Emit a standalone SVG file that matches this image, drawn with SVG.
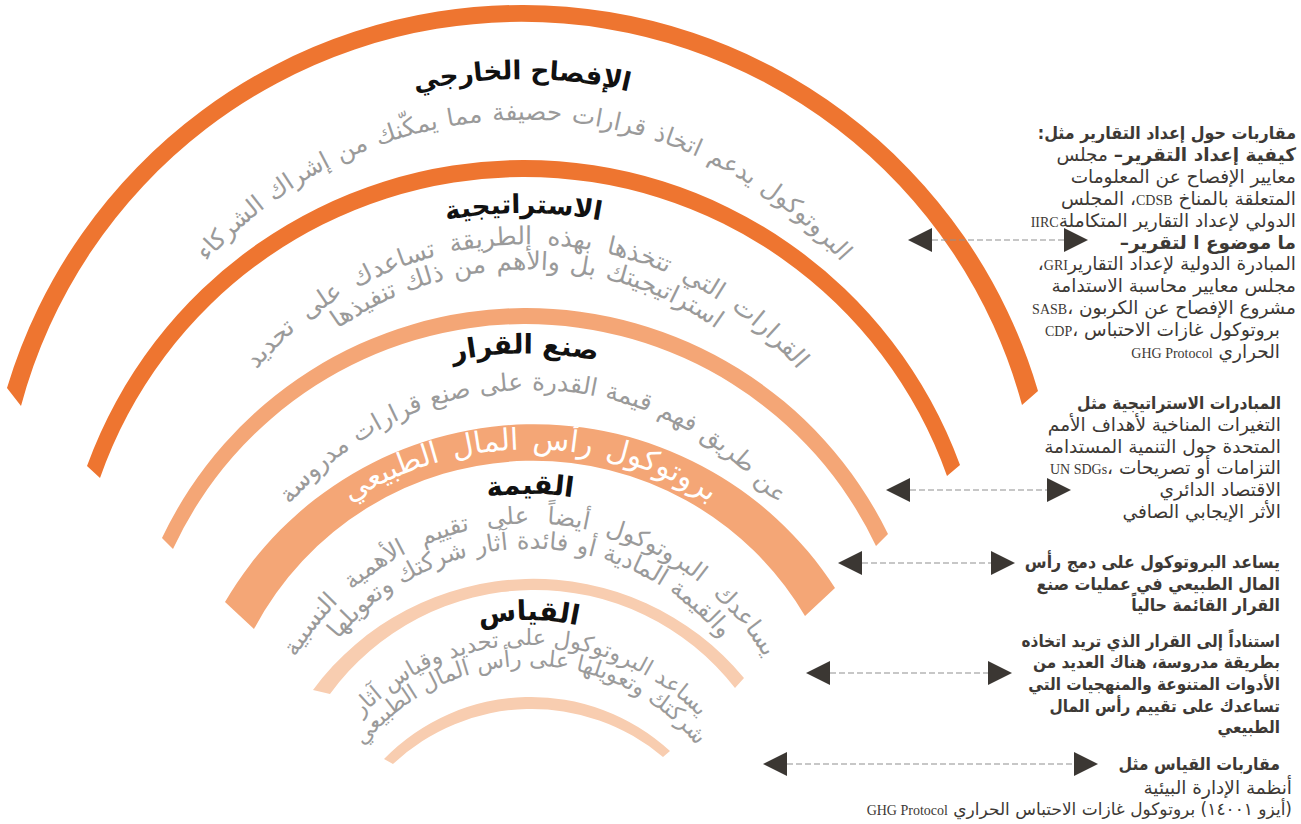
<svg xmlns="http://www.w3.org/2000/svg" width="1301" height="824" viewBox="0 0 1301 824">
<style>
.ar{font-family:"DejaVu Sans","Noto Sans",sans-serif}
.cb{font-family:"DejaVu Sans Condensed","DejaVu Sans",sans-serif;font-weight:700}
.title{font-size:26px;font-weight:700;fill:#111;text-anchor:middle}
.gray{font-size:25px;fill:#9a9a9a;text-anchor:middle}
.bandt{font-size:30px;fill:#fff;text-anchor:middle;word-spacing:4px}
.rt{font-size:18.5px;fill:#3d3935;direction:rtl;text-anchor:start}
.b{font-weight:700}
.lat{font-family:"Liberation Serif",serif;font-size:14px;font-weight:400}
.dash{stroke:#8f8f8f;stroke-width:1.2;stroke-dasharray:6 3;fill:none}
.c1{fill:#EE7530}.c2{fill:#F4A676}.c3{fill:#F8CDB0}
</style>
<defs>
<marker id="ah" viewBox="0 0 24 24" refX="0" refY="12" markerWidth="24" markerHeight="24" markerUnits="userSpaceOnUse" orient="auto-start-reverse"><path d="M0,0 L24,12 L0,24 Z" fill="#3b3733"/></marker>
<path id="p1" d="M59,503 A464.8,464.8 0 0 1 985,503"/>
<path id="p2" d="M100.6,508 A425,425 0 0 1 947.4,508"/>
<path id="p3" d="M113.1,588.7 A412,412 0 0 1 933.9,588.7"/>
<path id="p4a" d="M173.3,569 A355,355 0 0 1 880.7,569"/>
<path id="p4b" d="M197.3,571.1 A331,331 0 0 1 856.7,571.1"/>
<path id="p5" d="M168.4,679.8 A358,358 0 0 1 881.6,679.8"/>
<path id="p6" d="M219.2,677.5 A315,315 0 0 1 846.8,677.5"/>
<path id="p7" d="M197.3,753.9 A334,334 0 0 1 862.7,753.9"/>
<path id="p8" d="M242.1,757.8 A289,289 0 0 1 817.9,757.8"/>
<path id="p9a" d="M259,772.3 A272,272 0 0 1 801,772.3"/>
<path id="p9b" d="M283,774.4 A248,248 0 0 1 777,774.4"/>
<path id="p10" d="M296.8,832.3 A232.6,232.6 0 0 1 760.2,832.3"/>
<path id="p11a" d="M295.9,859.5 A235,235 0 0 1 764.1,859.5"/>
<path id="p11b" d="M316.8,861.3 A214,214 0 0 1 743.2,861.3"/>
</defs>
<rect width="1301" height="824" fill="#fff"/>

<g id="ring-disclosure">
<path class="c1" d="M7,388 A537.8,537.8 0 0 1 1038,391 L1022,405 A518.3,518.3 0 0 0 21,406 Z"/>
<text class="ar title"><textPath href="#p1" startOffset="50%">الإفصاح الخارجي</textPath></text>
<text class="ar gray" style="font-size:24.5px;word-spacing:2px"><textPath href="#p2" startOffset="50%">البروتوكول يدعم اتخاذ قرارات حصيفة مما يمكّنك من إشراك الشركاء</textPath></text>
</g>

<g id="ring-strategy">
<path class="c1" d="M87,466 A464.6,464.6 0 0 1 960,465 L947,476 A448.9,448.9 0 0 0 100,478 Z"/>
<text class="ar title"><textPath href="#p3" startOffset="50%">الاستراتيجية</textPath></text>
<text class="ar gray" style="word-spacing:7px"><textPath href="#p4a" startOffset="50%">القرارات التي تتخذها بهذه الطريقة تساعدك على تحديد</textPath></text>
<text class="ar gray" style="word-spacing:2px"><textPath href="#p4b" startOffset="50%">استراتيجيتك بل والأهم من ذلك تنفيذها</textPath></text>
</g>

<g id="ring-decision">
<path class="c2" d="M162,538 A403,403 0 0 1 888,534 L876,546 A388.2,388.2 0 0 0 173,549 Z"/>
<text class="ar title" style="font-size:27px"><textPath href="#p5" startOffset="50%">صنع القرار</textPath></text>
<text class="ar gray" style="font-size:24.5px;word-spacing:1px"><textPath href="#p6" startOffset="50%">عن طريق فهم قيمة القدرة على صنع قرارات مدروسة</textPath></text>
</g>

<g id="ring-value">
<path class="c2" d="M225,602 A358,358 0 0 1 835,588 L805,616 A315.7,315.7 0 0 0 254,629 Z"/>
<text class="ar bandt"><textPath href="#p7" startOffset="50%">بروتوكول رأس المال الطبيعي</textPath></text>
<text class="ar title" style="font-size:27.5px"><textPath href="#p8" startOffset="50%">القيمة</textPath></text>
<text class="ar gray" style="font-size:24px;word-spacing:10px"><textPath href="#p9a" startOffset="50%">يساعدك البروتوكول أيضاً على تقييم الأهمية النسبية</textPath></text>
<text class="ar gray" style="font-size:24px;word-spacing:1px"><textPath href="#p9b" startOffset="50%">والقيمة المادية أو فائدة آثار شركتك وتعويلها</textPath></text>
</g>

<g id="ring-measure">
<path class="c3" d="M313,690 A273.6,273.6 0 0 1 744,678 L735,688 A253.5,253.5 0 0 0 330,694 Z"/>
<text class="ar title" style="font-size:27.5px"><textPath href="#p10" startOffset="50%">القياس</textPath></text>
<text class="ar gray" style="font-size:22.5px"><textPath href="#p11a" startOffset="50%">يساعد البروتوكول على تحديد وقياس آثار</textPath></text>
<text class="ar gray" style="font-size:22.5px"><textPath href="#p11b" startOffset="50%">شركتك وتعويلها على رأس المال الطبيعي</textPath></text>
<path class="c3" d="M384,759 A205.3,205.3 0 0 1 670,751 L663,757 A202.7,202.7 0 0 0 393,764 Z"/>
</g>

<g id="connectors">
<line class="dash" x1="932" y1="240" x2="1064" y2="240" marker-start="url(#ah)" marker-end="url(#ah)"/>
<line class="dash" x1="910" y1="490" x2="1047" y2="490" marker-start="url(#ah)" marker-end="url(#ah)"/>
<line class="dash" x1="862" y1="563" x2="991" y2="563" marker-start="url(#ah)" marker-end="url(#ah)"/>
<line class="dash" x1="830" y1="673" x2="988" y2="673" marker-start="url(#ah)" marker-end="url(#ah)"/>
<line class="dash" x1="787" y1="764" x2="1074" y2="764" marker-start="url(#ah)" marker-end="url(#ah)"/>
</g>

<g id="note-reporting">
<text class="rt cb" x="1296" y="139" style="font-size:17.7px">مقاربات حول إعداد التقارير مثل:</text>
<text class="ar rt" x="1296" y="161"><tspan class="b">كيفية إعداد التقرير–</tspan> مجلس</text>
<text class="ar rt" x="1296" y="183">معايير الإفصاح عن المعلومات</text>
<text class="ar rt" x="1296" y="205">المتعلقة بالمناخ <tspan class="lat">CDSB</tspan>، المجلس</text>
<text class="ar rt" x="1296" y="227">الدولي لإعداد التقارير المتكاملة<tspan class="lat">IIRC</tspan></text>
<text class="ar rt b" x="1296" y="249">ما موضوع ا لتقرير–</text>
<text class="ar rt" x="1296" y="270">المبادرة الدولية لإعداد التقارير<tspan class="lat">GRI</tspan>،</text>
<text class="ar rt" x="1296" y="292">مجلس معايير محاسبة الاستدامة</text>
<text class="ar rt" x="1296" y="314">مشروع الإفصاح عن الكربون ،<tspan class="lat">SASB</tspan></text>
<text class="ar rt" x="1280" y="336">بروتوكول غازات الاحتباس ،<tspan class="lat">CDP</tspan></text>
<text class="ar rt" x="1280" y="358">الحراري <tspan class="lat">GHG Protocol</tspan></text>
</g>

<g id="note-strategic">
<text class="rt cb" x="1281" y="409" style="font-size:17.2px">المبادرات الاستراتيجية مثل</text>
<text class="ar rt" x="1281" y="431">التغيرات المناخية لأهداف الأمم</text>
<text class="ar rt" x="1281" y="453">المتحدة حول التنمية المستدامة</text>
<text class="ar rt" x="1281" y="474">التزامات أو تصريحات ،<tspan class="lat">UN SDGs</tspan></text>
<text class="ar rt" x="1281" y="496">الاقتصاد الدائري</text>
<text class="ar rt" x="1281" y="518">الأثر الإيجابي الصافي</text>
</g>

<g id="note-decision">
<text class="rt cb" x="1280" y="568" style="font-size:17.6px">يساعد البروتوكول على دمج رأس</text>
<text class="rt cb" x="1280" y="590" style="font-size:17.6px">المال الطبيعي في عمليات صنع</text>
<text class="rt cb" x="1280" y="611" style="font-size:17.6px">القرار القائمة حالياً</text>
</g>

<g id="note-value">
<text class="rt cb" x="1280" y="647" style="font-size:17px">استناداً إلى القرار الذي تريد اتخاذه</text>
<text class="rt cb" x="1280" y="668" style="font-size:17px">بطريقة مدروسة، هناك العديد من</text>
<text class="rt cb" x="1280" y="690" style="font-size:17px">الأدوات المتنوعة والمنهجيات التي</text>
<text class="rt cb" x="1280" y="712" style="font-size:17px">تساعدك على تقييم رأس المال</text>
<text class="rt cb" x="1280" y="733" style="font-size:17px">الطبيعي</text>
</g>

<g id="note-measure">
<text class="rt cb" x="1280" y="770" style="font-size:17.5px">مقاربات القياس مثل</text>
<text class="ar rt" x="1292" y="794">أنظمة الإدارة البيئية</text>
<text class="ar rt" x="1292" y="815" style="font-size:17px">(أيزو ١٤٠٠١) بروتوكول غازات الاحتباس الحراري <tspan class="lat">GHG Protocol</tspan></text>
</g>
</svg>
